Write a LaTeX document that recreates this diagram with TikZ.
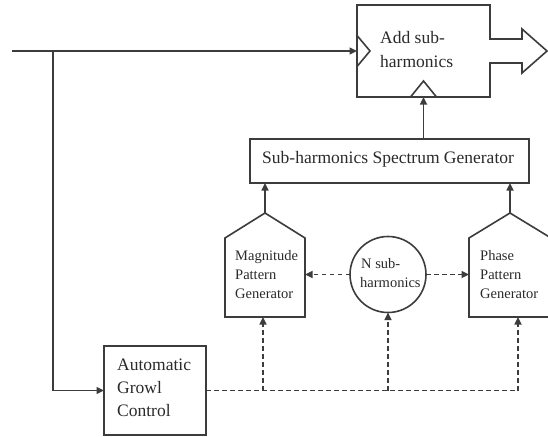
\documentclass[tikz,border=0pt]{standalone}
\usepackage{fontspec}
\setmainfont{Liberation Serif}
\usetikzlibrary{arrows.meta,calc}
\definecolor{lc}{HTML}{3C3C3C}
\definecolor{tc}{HTML}{2A2A2A}
\begin{document}
\begin{tikzpicture}[x=1pt,y=-1pt,
  ln/.style={draw=lc, line width=1.6pt, line join=miter},
  arr/.style={ln, -{Triangle[length=7.5pt,width=7pt]}},
  dl/.style={ln, dash pattern=on 4.5pt off 3.5pt},
  darr/.style={arr, dash pattern=on 4.5pt off 3.5pt},
  box/.style={inner sep=0pt, outer sep=0pt},
  big/.style={font=\fontsize{17.5}{21}\selectfont, text=tc, anchor=base west, inner sep=0pt},
  small/.style={font=\fontsize{14.5}{18}\selectfont, text=tc, anchor=base west, inner sep=0pt}]
\useasboundingbox (0,0) rectangle (548,436);
\clip (0,0) rectangle (548,436);
\fill[white] (0,0) rectangle (548,436);

% boxes
\node[box, minimum width=133pt, minimum height=92pt] (add) at (423.5,51) {};
\node[box, ln, minimum width=279pt, minimum height=44pt] (shsg) at (389.5,161) {};
\node[box, minimum width=80pt, minimum height=104pt] (mag) at (265,265) {};
\node[box, minimum width=82pt, minimum height=104pt] (phase) at (510,265) {};
\node[box, ln, circle, minimum size=76pt] (nsub) at (388,274.5) {};
\node[box, ln, minimum width=102pt, minimum height=89pt] (agc) at (155,390.5) {};

% add box outline with output arrow
\draw[ln] (add.south west) -- (add.north west) -- (add.north east) -- ($(add.east)+(0,-12)$) -- ($(add.east)+(32,-12)$)
  -- ($(add.east)+(32,-22)$) -- ($(add.east)+(57,0)$) -- ($(add.east)+(32,22)$) -- ($(add.east)+(32,12)$)
  -- ($(add.east)+(0,12)$) -- (add.south east) -- cycle;
% input notches
\draw[ln] ($(add.west)+(0,15.5)$) -- ($(add.west)+(13,0)$) -- ($(add.west)+(0,-15.5)$);
\draw[ln] ($(add.south)+(13,0)$) -- ($(add.south)+(0,-16)$) -- ($(add.south)+(-13,0)$);

% pentagons
\draw[ln] (mag.south west) -- ($(mag.north west)+(0,25)$) -- (mag.north) -- ($(mag.north east)+(0,25)$) -- (mag.south east) -- cycle;
\draw[ln] (phase.south west) -- ($(phase.north west)+(0,25)$) -- (phase.north) -- ($(phase.north east)+(0,25)$) -- (phase.south east) -- cycle;

% texts
\node[big] (ta1) at (380,44) {Add sub-};
\node[big] (ta2) at (380,67) {harmonics};
\node[big] (ts) at (262,163) {Sub-harmonics Spectrum Generator};
\node[small] (tm1) at (235,260) {Magnitude};
\node[small] (tm2) at (235,279) {Pattern};
\node[small] (tm3) at (235,298) {Generator};
\node[small] (tp1) at (480,260) {Phase};
\node[small] (tp2) at (480,279) {Pattern};
\node[small] (tp3) at (480,298) {Generator};
\node[small] (tn1) at (361,268) {N sub-};
\node[small] (tn2) at (360,287) {harmonics};
\node[big] (tg1) at (117,370) {Automatic};
\node[big] (tg2) at (117,393) {Growl};
\node[big] (tg3) at (117,416) {Control};

% connectors
\coordinate (in) at (12,51);
\coordinate (jn) at (53,51);
\draw[arr] (in) -- (add.west);
\draw[arr] (jn) |- (agc.west);
\draw[arr] (shsg.north -| add.south) -- (add.south);
\draw[arr] (mag.north) -- (mag.north |- shsg.south);
\draw[arr] (phase.north) -- (phase.north |- shsg.south);
\draw[darr] (nsub.west) -- (nsub.west -| mag.east);
\draw[darr] (nsub.east) -- (nsub.east -| phase.west);

\coordinate (c1) at (263,390.5);
\coordinate (c2) at (388,390.5);
\coordinate (c3) at (518,390.5);
\draw[dl] (agc.east) -- (c3);
\draw[darr] (c1) -- (c1 |- mag.south);
\draw[darr] (c2) -- (nsub.south);
\draw[darr] (c3) -- (c3 |- phase.south);
\end{tikzpicture}
\end{document}
